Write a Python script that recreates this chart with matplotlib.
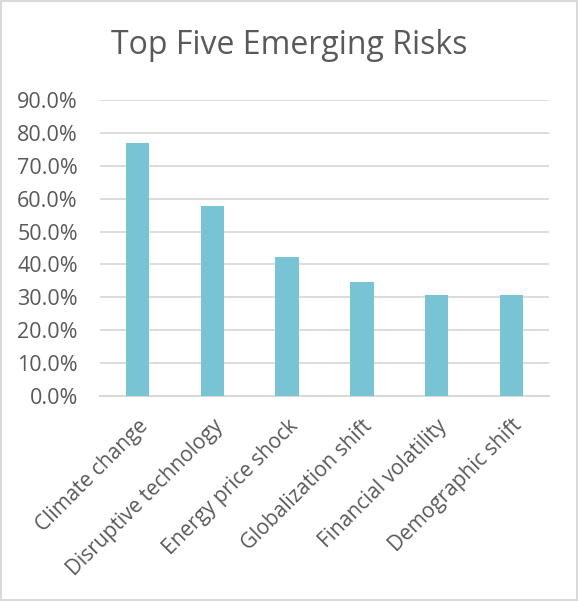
import matplotlib
matplotlib.use("Agg")
import matplotlib.pyplot as plt
from matplotlib.patches import Rectangle
from matplotlib.ticker import PercentFormatter

# Share of respondents naming each risk
risks = [
    "Climate change",
    "Disruptive technology",
    "Energy price shock",
    "Globalization shift",
    "Financial volatility",
    "Demographic shift",
]
shares = [0.769, 0.577, 0.423, 0.346, 0.308, 0.308]
y_ticks = [0.0, 0.1, 0.2, 0.3, 0.4, 0.5, 0.6, 0.7, 0.8, 0.9]

text_color = "#595959"
grid_color = "#d9d9d9"
bar_color = "#78c4d4"

fig = plt.figure(figsize=(5.78, 6.01), dpi=100)
ax = fig.add_axes([100 / 578, 1 - 396 / 601, 449 / 578, 296 / 601])

ax.bar(range(len(risks)), shares, width=0.31, color=bar_color, zorder=3)

ax.set_ylim(0, 0.9)
ax.set_xlim(-0.5, len(risks) - 0.5)
ax.set_yticks(y_ticks)
ax.yaxis.set_major_formatter(PercentFormatter(1.0, decimals=1))
ax.grid(axis="y", color=grid_color, linewidth=1.3, zorder=0)

for side in ["left", "right", "top"]:
    ax.spines[side].set_visible(False)
ax.spines["bottom"].set_color(grid_color)
ax.spines["bottom"].set_linewidth(1.5)

ax.set_xticks(range(len(risks)))
ax.set_xticklabels(risks, rotation=45, ha="right", rotation_mode="anchor",
                   fontsize=15, color=text_color, family="Open Sans")
ax.tick_params(axis="x", length=0, pad=14)
ax.tick_params(axis="y", length=0, pad=16, labelsize=15.5, labelcolor=text_color)
for lbl in ax.get_yticklabels():
    lbl.set_family("Open Sans")

fig.text(0.5, 1 - 45 / 601, "Top Five Emerging Risks", ha="center", va="center",
         fontsize=23, color=text_color, family="Open Sans")

# light chart border
fig.patches.append(Rectangle((0.001, 0.002), 0.997, 0.996, transform=fig.transFigure,
                             fill=False, edgecolor=grid_color, linewidth=1.5))

fig.savefig("out.png", dpi=100)
